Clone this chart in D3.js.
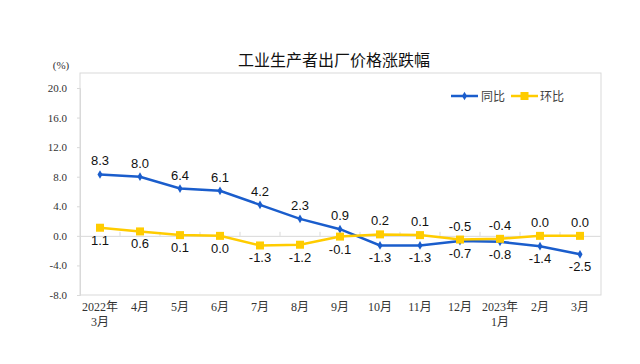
<!DOCTYPE html>
<html>
<head>
<meta charset="utf-8">
<script src="https://cdn.jsdelivr.net/npm/d3@7"></script>
<style>
  html, body { margin: 0; padding: 0; background: #fff; }
  svg { display: block; }
</style>
</head>
<body>
<div id="chart"></div>
<script>
const categories = ["2022年\n3月", "4月", "5月", "6月", "7月", "8月", "9月", "10月", "11月", "12月", "2023年\n1月", "2月", "3月"];
const yoyValues = [8.3, 8.0, 6.4, 6.1, 4.2, 2.3, 0.9, -1.3, -1.3, -0.7, -0.8, -1.4, -2.5];
const momValues = [1.1, 0.6, 0.1, 0.0, -1.3, -1.2, -0.1, 0.2, 0.1, -0.5, -0.4, 0.0, 0.0];
const yTicks = [-8, -4, 0, 4, 8, 12, 16, 20];
const seriesNames = ["同比", "环比"];
const title = "工业生产者出厂价格涨跌幅";
const unitLabel = "(%)";

(function () {
const W = 640, H = 364;
const pL = 80, pR = 600, pT = 88, pB = 295;
const BLUE = "#1a5dcc", YELLOW = "#ffcc00";

const svg = d3.select("#chart").append("svg").attr("width", W).attr("height", H);

const x = d3.scaleBand().domain(d3.range(categories.length)).range([pL, pR]);
const y = d3.scaleLinear().domain([-8, 20]).range([pB, pT]);
const cx = i => x(i) + x.bandwidth() / 2;
const fmt = v => d3.format(".1f")(v).replace("\u2212", "-");

// plot frame
svg.append("rect").attr("x", pL).attr("y", 73).attr("width", pR - pL + 1).attr("height", pB - 73)
  .attr("fill", "none").attr("stroke", "#d9d9d9").attr("stroke-width", 1);

// title
svg.append("text").attr("x", 334).attr("y", 66).attr("text-anchor", "middle")
  .attr("font-family", "'Noto Sans CJK SC', sans-serif").attr("font-size", 16).attr("fill", "#111")
  .text(title);
svg.append("text").attr("x", 61).attr("y", 69).attr("text-anchor", "middle")
  .attr("font-family", "'Liberation Serif', serif").attr("font-size", 11).attr("fill", "#333")
  .text(unitLabel);

// y axis
const yAxis = d3.axisLeft(y).tickValues(yTicks).tickFormat(fmt).tickSize(3).tickPadding(10);
const gy = svg.append("g").attr("transform", `translate(${pL},0)`).call(yAxis);
gy.select(".domain").attr("stroke", "#d9d9d9");
gy.selectAll(".tick line").attr("stroke", "#d9d9d9");
gy.selectAll(".tick text").attr("font-family", "'Liberation Serif', serif").attr("font-size", 11).attr("fill", "#333");

// x axis at zero
const xAxisLine = d3.axisBottom(x).tickValues([]).tickSizeOuter(0);
const gx = svg.append("g").attr("transform", `translate(0,${y(0)})`).call(xAxisLine);
gx.select(".domain").attr("stroke", "#d9d9d9");
gx.selectAll(".bnd").data(d3.range(1, categories.length)).enter().append("line")
  .attr("x1", i => x(i)).attr("x2", i => x(i)).attr("y1", 0).attr("y2", -4).attr("stroke", "#d9d9d9");

// x labels at bottom
const xl = svg.append("g");
categories.forEach((c, i) => {
  const t = xl.append("text").attr("x", cx(i)).attr("y", 311).attr("text-anchor", "middle")
    .attr("font-family", "'Liberation Serif', 'Noto Sans CJK SC', serif").attr("font-size", 12).attr("fill", "#333");
  c.split("\n").forEach((line, k) => {
    t.append("tspan").attr("x", cx(i)).attr("dy", k === 0 ? 0 : 15).text(line);
  });
});

const line = d3.line().x((d, i) => cx(i)).y(d => y(d));

// yoy series
svg.append("path").datum(yoyValues).attr("d", line).attr("fill", "none").attr("stroke", BLUE).attr("stroke-width", 2.5);
svg.selectAll(".yoyPt").data(yoyValues).enter().append("path")
  .attr("transform", (d, i) => `translate(${cx(i)},${y(d)})`)
  .attr("d", d3.symbol(d3.symbolDiamond, 22)).attr("fill", BLUE);

// mom series
svg.append("path").datum(momValues).attr("d", line).attr("fill", "none").attr("stroke", YELLOW).attr("stroke-width", 2.5);
svg.selectAll(".momPt").data(momValues).enter().append("rect")
  .attr("x", (d, i) => cx(i) - 4).attr("y", d => y(d) - 4).attr("width", 8).attr("height", 8).attr("fill", YELLOW);

// data labels
const labelFont = "'Liberation Sans', Arial, sans-serif";
function addLabels(vals, other) {
  svg.append("g").selectAll("text").data(vals).enter().append("text")
    .attr("x", (d, i) => cx(i))
    .attr("y", (d, i) => d >= other[i] ? y(d) - 9 : y(d) + 17)
    .attr("text-anchor", "middle").attr("font-family", labelFont).attr("font-size", 13).attr("fill", "#111")
    .text(d => fmt(d));
}
addLabels(yoyValues, momValues);
addLabels(momValues, yoyValues);

// legend
const lg = svg.append("g").attr("transform", "translate(0,96)");
lg.append("line").attr("x1", 451).attr("x2", 478).attr("y1", 0).attr("y2", 0).attr("stroke", BLUE).attr("stroke-width", 2.5);
lg.append("path").attr("transform", "translate(464.5,0)").attr("d", d3.symbol(d3.symbolDiamond, 22)).attr("fill", BLUE);
lg.append("text").attr("x", 481).attr("y", 4.5).attr("font-family", "'Noto Sans CJK SC', sans-serif").attr("font-size", 12).attr("fill", "#404040").text(seriesNames[0]);
lg.append("line").attr("x1", 511).attr("x2", 538).attr("y1", 0).attr("y2", 0).attr("stroke", YELLOW).attr("stroke-width", 2.5);
lg.append("rect").attr("x", 520.5).attr("y", -4).attr("width", 8).attr("height", 8).attr("fill", YELLOW);
lg.append("text").attr("x", 540).attr("y", 4.5).attr("font-family", "'Noto Sans CJK SC', sans-serif").attr("font-size", 12).attr("fill", "#404040").text(seriesNames[1]);
})();
</script>
</body>
</html>
